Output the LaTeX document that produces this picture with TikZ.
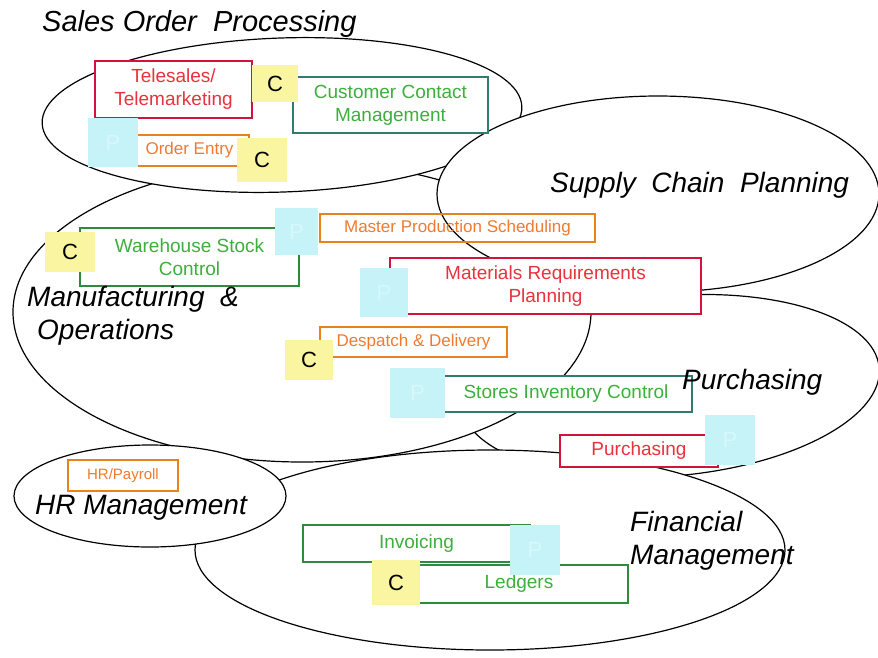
\documentclass[tikz,border=0pt]{standalone}
\usepackage{fontspec}
\setmainfont{Liberation Sans}
\usepackage{xcolor}
\usetikzlibrary{calc}

\definecolor{modred}{HTML}{D2143C}
\definecolor{modredtxt}{HTML}{E8323C}
\definecolor{modorange}{HTML}{E8821E}
\definecolor{modorangetxt}{HTML}{F07A30}
\definecolor{modgreen}{HTML}{2E8B3E}
\definecolor{modteal}{HTML}{2E7D6E}
\definecolor{modgreentxt}{HTML}{3CAF3C}
\definecolor{csqyellow}{HTML}{FAF5A0}
\definecolor{psqcyan}{HTML}{C6F3F8}
\definecolor{psqtext}{HTML}{D6F8FB}

\tikzset{
  region/.style={draw=black, fill=white, line width=1.2pt},
  regionlabel/.style={font=\fontsize{28}{33}\selectfont\itshape, inner sep=0pt, align=left},
  module/.style={draw, line width=1.3pt, inner sep=0pt, align=center, fill=white,
    font=\fontsize{19}{23}\selectfont},
  smalltext/.style={font=\fontsize{17}{20}\selectfont},
  redmod/.style={module, draw=modred, text=modredtxt},
  orangemod/.style={module, draw=modorange, text=modorangetxt},
  greenmod/.style={module, draw=modgreen, text=modgreentxt},
  tealmod/.style={module, draw=modteal, text=modgreentxt},
  sz/.style 2 args={minimum width=#1pt, minimum height=#2pt},
  csq/.style={fill=csqyellow, inner sep=0pt, font=\fontsize{22}{24}\selectfont},
  psq/.style={fill=psqcyan, text=psqtext, inner sep=0pt, font=\fontsize{22}{24}\selectfont},
}

\begin{document}
\begin{tikzpicture}[x=1pt, y=-1pt]
  \fill[white] (0,0) rectangle (878,657);
  \useasboundingbox (0,0) rectangle (878,657);

  % business areas, back to front
  \begin{scope}
    \filldraw[region, rotate around={5:(670,386)}] (670,386) ellipse [x radius=210pt, y radius=90pt];
    \filldraw[region] (490,550) ellipse [x radius=295pt, y radius=100pt];
    \filldraw[region] (302,312) ellipse [x radius=289pt, y radius=150pt];
    \filldraw[region, rotate around={2:(282,115)}] (282,115) ellipse [x radius=240pt, y radius=77pt];
    \filldraw[region] (658,194) ellipse [x radius=221pt, y radius=98pt];
    \filldraw[region] (150,496) ellipse [x radius=136pt, y radius=51pt];
  \end{scope}

  % modules
  \begin{scope}
    \node[redmod, sz={157}{57}] (tele) at (173.5,89.5) {Telesales/\\Telemarketing};
    \node[tealmod, sz={195}{56}] (ccm) at (390.5,105) {Customer Contact\\Management};
    \node[orangemod, smalltext, sz={119}{31}] (order) at (189.5,150.5) {Order Entry};
    \node[greenmod, sz={219}{58}] (ware) at (189.5,257) {Warehouse Stock\\Control};
    \node[orangemod, smalltext, fill=none, sz={275}{28}] (mps) at (457.5,228) {Master Production Scheduling};
    \node[redmod, sz={311}{56}] (mrp) at (545.5,286) {Materials Requirements\\Planning};
    \node[orangemod, smalltext, sz={187}{30}] (desp) at (413.5,342) {Despatch \& Delivery};
    \node[tealmod, sz={252}{36}] (stores) at (566,394) {Stores Inventory Control};
    \node[redmod, sz={158}{32}] (purch) at (639,451) {Purchasing};
    \node[orangemod, font=\fontsize{15}{17}\selectfont, sz={110}{31}] (hrpay) at (123,475.5) {HR/Payroll};
    \node[greenmod, sz={227}{37}] (invo) at (416.5,543.5) {Invoicing};
    \node[greenmod, sz={218}{38}] (ledg) at (519,584) {Ledgers};
  \end{scope}

  % C and P markers
  \begin{scope}
    \node[csq, sz={46}{37}] (teleC) at (275,83.5) {C};
    \node[csq, sz={50}{44}] (orderC) at (262,160) {C};
    \node[csq, sz={50}{40}] (wareC) at (70,252) {C};
    \node[csq, sz={48}{40}] (despC) at (309,360) {C};
    \node[csq, sz={48}{45}] (ledgC) at (396,582.5) {C};

    \node[psq, sz={50}{49}] (orderP) at (113,142.5) {P};
    \node[psq, sz={43}{47}] (wareP) at (296.5,231.5) {P};
    \node[psq, sz={48}{49}] (mrpP) at (384,292.5) {P};
    \node[psq, sz={55}{50}] (storesP) at (417.5,393) {P};
    \node[psq, sz={50}{50}] (purchP) at (730,440) {P};
    \node[psq, sz={50}{50}] (invoP) at (535,550) {P};
  \end{scope}

  % area names
  \node[regionlabel, anchor=base west] (sop) at (42,31) {\fontsize{29}{33}\selectfont Sales Order\ \ Processing};
  \node[regionlabel, anchor=base west] (scp) at (550,192) {Supply\ \ Chain\ \ Planning};
  \node[regionlabel, anchor=base west] (mao) at (27,339) {Manufacturing\ \ \&\\\hspace*{10pt}Operations};
  \node[regionlabel, anchor=base west] (pur) at (682,389) {Purchasing};
  \node[regionlabel, anchor=base west] (hrm) at (35,514) {HR Management};
  \node[regionlabel, anchor=base west] (fin) at (630,564) {Financial\\Management};
\end{tikzpicture}
\end{document}
